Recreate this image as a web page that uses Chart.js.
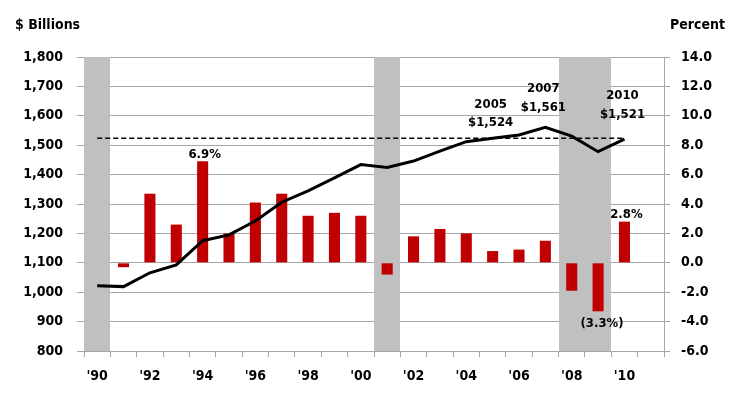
<!DOCTYPE html>
<html>
<head>
<meta charset="utf-8">
<script src="https://cdn.jsdelivr.net/npm/chart.js@4"></script>
<style>
    html, body { margin: 0; padding: 0; background: #ffffff; }
    #myChart { display: block; }
</style>
</head>
<body>
<canvas id="myChart" width="743" height="403"></canvas>
<script>
// ---- data ----
const years = ['1990', '1991', '1992', '1993', '1994', '1995', '1996', '1997', '1998', '1999', '2000',
               '2001', '2002', '2003', '2004', '2005', '2006', '2007', '2008', '2009', '2010', '2011']
const tickLabels = ["'90", '', "'92", '', "'94", '', "'96", '', "'98", '', "'00",
                    '', "'02", '', "'04", '', "'06", '', "'08", '', "'10", '']

// $ billions (left axis)
const spending = [1022, 1019, 1066, 1093, 1175, 1195, 1242, 1306, 1345, 1389, 1434,
                  1424, 1446, 1480, 1512, 1524, 1535, 1561, 1531, 1478, 1521, null]

// annual percent change (right axis)
const pctChange = [null, -0.3, 4.7, 2.6, 6.9, 2.0, 4.1, 4.7, 3.2, 3.4, 3.2,
                   -0.8, 1.8, 2.3, 2.0, 0.8, 0.9, 1.5, -1.9, -3.3, 2.8, null]

// 2005 level, drawn dashed across the period
const referenceLine = [{ x: '1990', y: 1524 }, { x: '2010', y: 1524 }]

const recessionYears = ['1990', '2001', '2008', '2009']
const valueCallouts = ['2005', '2007', '2010']
const pctCallouts = ['1994', '2009', '2010']

const FONT = '"DejaVu Sans Condensed", "DejaVu Sans", sans-serif'
const GRID = '#a6a6a6'

function fmtDollar(v)
{
    return '$' + v.toLocaleString('en-US')
}

function fmtPct(v)
{
    return v < 0 ? '(' + Math.abs(v).toFixed(1) + '%)' : v.toFixed(1) + '%'
}

// grey recession bands, under the marks but over the grid
const recessionPlugin = {
    id: 'recessions',
    beforeDatasetsDraw(chart) {
        const x = chart.scales.x
        const area = chart.chartArea
        const half = (x.getPixelForValue(1) - x.getPixelForValue(0)) / 2

        // join back-to-back years into one band so no seam shows
        let bands = []
        recessionYears.map((yr) => years.indexOf(yr)).sort((a, b) => a - b).forEach((i) => {
            let last = bands[bands.length - 1]
            if (last && last[1] == i - 1)
                last[1] = i
            else
                bands.push([i, i])
        })

        const ctx = chart.ctx
        ctx.save()
        ctx.fillStyle = '#c0c0c0'
        bands.forEach((b) => {
            const left = Math.round(x.getPixelForValue(b[0]) - half)
            const right = Math.round(x.getPixelForValue(b[1]) + half)
            ctx.fillRect(left, area.top, right - left, area.bottom - area.top)
        })
        ctx.restore()
    }
}

// axis titles and value labels
const labelPlugin = {
    id: 'labels',
    afterDraw(chart) {
        const ctx = chart.ctx
        const x = chart.scales.x
        const y = chart.scales.y
        const y1 = chart.scales.y1
        ctx.save()
        ctx.fillStyle = '#000000'
        ctx.textBaseline = 'middle'

        ctx.font = 'bold 14px ' + FONT
        ctx.textAlign = 'left'
        ctx.fillText('$ Billions', 15, 25)
        ctx.fillText('Percent', 670, 25)

        ctx.font = 'bold 13px ' + FONT
        ctx.textAlign = 'center'
        // offset of the two text lines above the point
        const lift = { '2005': [34, 16], '2007': [39, 20], '2010': [43, 24] }
        valueCallouts.forEach((yr) => {
            const i = years.indexOf(yr)
            const px = x.getPixelForValue(i)
            const py = y.getPixelForValue(spending[i])
            ctx.fillText(yr, px - 2, py - lift[yr][0])
            ctx.fillText(fmtDollar(spending[i]), px - 2, py - lift[yr][1])
        })

        pctCallouts.forEach((yr) => {
            const i = years.indexOf(yr)
            const v = pctChange[i]
            const px = x.getPixelForValue(i)
            const py = y1.getPixelForValue(v)
            if (v >= 0)
                ctx.fillText(fmtPct(v), px + 2, py - 7)
            else
                ctx.fillText(fmtPct(v), px + 4, py + 12)
        })
        ctx.restore()
    }
}

const config = {
    data: {
        labels: years,
        datasets: [
            {
                type: 'line',
                label: 'Spending',
                data: spending,
                yAxisID: 'y',
                borderColor: '#000000',
                borderWidth: 3,
                pointRadius: 0,
                tension: 0,
                order: 1
            },
            {
                type: 'line',
                label: '2005 level',
                data: referenceLine,
                yAxisID: 'y',
                borderColor: '#000000',
                borderWidth: 1.5,
                borderDash: [5, 3],
                pointRadius: 0,
                order: 2
            },
            {
                type: 'bar',
                label: 'Percent change',
                data: pctChange,
                yAxisID: 'y1',
                backgroundColor: '#c00000',
                barPercentage: 0.42,
                categoryPercentage: 1,
                order: 3
            }
        ]
    },
    options: {
        responsive: false,
        animation: false,
        devicePixelRatio: 1,
        layout: {
            padding: { top: 57, bottom: 12, left: 0, right: 0 }
        },
        plugins: {
            legend: { display: false },
            tooltip: { enabled: false }
        },
        scales: {
            x: {
                type: 'category',
                offset: true,
                grid: {
                    offset: true,
                    drawOnChartArea: false,
                    drawTicks: true,
                    tickLength: 6,
                    color: GRID
                },
                border: { display: true, color: GRID },
                ticks: {
                    autoSkip: false,
                    maxRotation: 0,
                    padding: 11,
                    color: '#000000',
                    font: { family: FONT, size: 14, weight: 'bold' },
                    callback: (value, index) => tickLabels[index]
                },
                afterFit: (scale) => { scale.height = 40 }
            },
            y: {
                position: 'left',
                min: 800,
                max: 1800,
                grid: {
                    color: GRID,
                    tickLength: 7
                },
                border: { display: true, color: GRID },
                ticks: {
                    stepSize: 100,
                    padding: 14,
                    color: '#000000',
                    font: { family: FONT, size: 14, weight: 'bold' },
                    callback: (v) => v.toLocaleString('en-US')
                },
                afterFit: (scale) => { scale.width = 84 }
            },
            y1: {
                position: 'right',
                min: -6,
                max: 14,
                grid: {
                    drawOnChartArea: false,
                    color: GRID,
                    tickLength: 6
                },
                border: { display: true, color: GRID },
                ticks: {
                    stepSize: 2,
                    padding: 11,
                    color: '#000000',
                    font: { family: FONT, size: 14, weight: 'bold' },
                    callback: (v) => v.toFixed(1)
                },
                afterFit: (scale) => { scale.width = 79 }
            }
        }
    },
    plugins: [recessionPlugin, labelPlugin]
}

const chart = new Chart(document.getElementById('myChart'), config)
</script>
</body>
</html>
